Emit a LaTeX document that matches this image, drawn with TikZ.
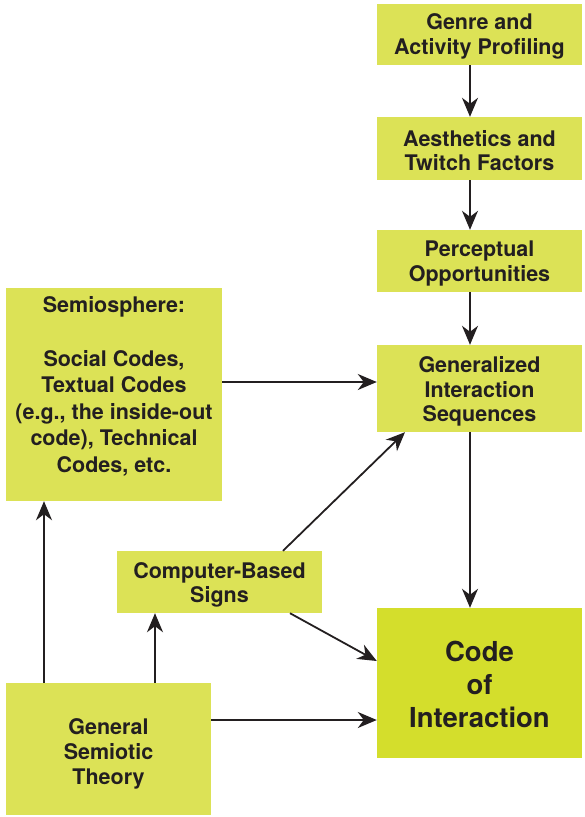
\documentclass[tikz,border=0pt]{standalone}
\usepackage{fontspec}
\setmainfont{TeX Gyre Heros}
\usetikzlibrary{arrows.meta,calc}

\definecolor{boxfill}{RGB}{220,226,86}
\definecolor{keyfill}{RGB}{212,222,44}
\definecolor{ink}{RGB}{35,31,32}

\tikzset{
  box/.style={fill=boxfill, draw=none, inner sep=0pt},
  keybox/.style={box, fill=keyfill},
  lbl/.style={inner sep=0pt, align=center, text=ink,
    font=\bfseries\fontsize{21.5}{24.5}\selectfont},
  keylbl/.style={lbl, font=\bfseries\fontsize{27.5}{33}\selectfont},
  arr/.style={draw=ink, line width=1.8pt,
    -{Stealth[length=19pt, width=16pt, inset=6pt]}},
}

\begin{document}
\begin{tikzpicture}[x=1pt, y=-1pt]
\useasboundingbox (0,0) rectangle (585,817);

% boxes of the right-hand column
\node[box, minimum width=205pt, minimum height=61pt] (genre) at (479.5,34.5) {};
\node[box, minimum width=205pt, minimum height=63pt] (aest) at (479.5,148.5) {};
\node[box, minimum width=205pt, minimum height=62pt] (perc) at (479.5,261) {};
\node[box, minimum width=205pt, minimum height=87pt] (gis) at (479.5,388.5) {};
\node[keybox, minimum width=205pt, minimum height=150pt] (code) at (479.5,683) {};

% boxes on the left
\node[box, minimum width=216pt, minimum height=213pt] (semio) at (114,394.5) {};
\node[box, minimum width=205pt, minimum height=62pt] (cbs) at (219.5,582) {};
\node[box, minimum width=205pt, minimum height=132pt] (gst) at (108.5,749) {};

% box texts
\node[lbl] (genre-t) at (479.5,36.5) {Genre and\\Activity Profiling};
\node[lbl] (aest-t) at (479.5,150.5) {Aesthetics and\\Twitch Factors};
\node[lbl] (perc-t) at (479.5,263.5) {Perceptual\\Opportunities};
\node[lbl] (gis-t) at (479.5,391.5) {Generalized\\Interaction\\Sequences};
\node[keylbl] (code-t) at (479.5,684) {Code\\of\\Interaction};
\node[lbl, font=\bfseries\fontsize{21.5}{26.6}\selectfont] (semio-t) at (114,386.5)
  {Semiosphere:\\[26.6pt]Social Codes,\\Textual Codes\\(e.g., the inside-out\\code), Technical\\Codes, etc.};
\node[lbl] (cbs-t) at (219.5,585) {Computer-Based\\Signs};
\node[lbl, font=\bfseries\fontsize{21.5}{25}\selectfont] (gst-t) at (108.5,753.5)
  {General\\Semiotic\\Theory};

% connectors
\draw[arr] ([xshift=-9.5pt]genre.south) -- ([xshift=-9.5pt]aest.north);
\draw[arr] ([xshift=-9.5pt]aest.south) -- ([xshift=-9.5pt]perc.north);
\draw[arr] ([xshift=-9.5pt]perc.south) -- ([xshift=-9.5pt]gis.north);
\draw[arr] ([xshift=-9.5pt]gis.south) -- ([xshift=-9.5pt]code.north);
\draw[arr] ([yshift=12.5pt]semio.east) -- ([yshift=12.5pt]semio.east -| gis.west);
\draw[arr] ([xshift=63.5pt]cbs.north) -- ([xshift=-74.5pt]gis.south);
\draw[arr] ([xshift=70.5pt]cbs.south) -- ([yshift=22pt]code.west);
\draw[arr] ([yshift=29pt]gst.east) -- ([yshift=29pt]gst.east -| code.west);
\draw[arr] ([xshift=-64.5pt]gst.north) -- ([xshift=-64.5pt]gst.north |- semio.south);
\draw[arr] ([xshift=46.5pt]gst.north) -- ([xshift=46.5pt]gst.north |- cbs.south);
\end{tikzpicture}
\end{document}
